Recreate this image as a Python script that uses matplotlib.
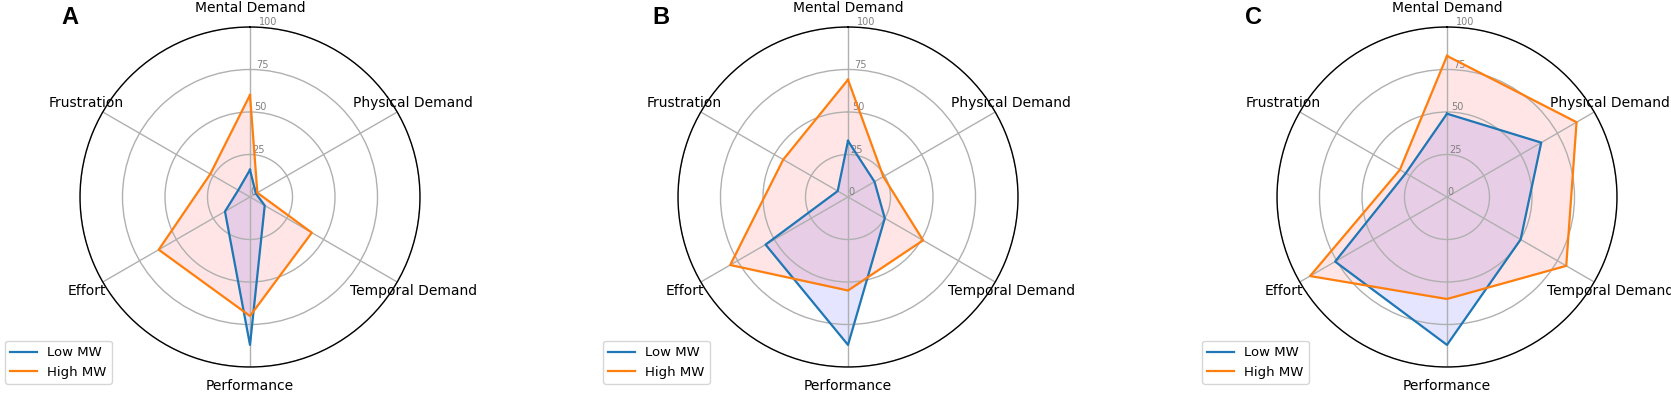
import numpy as np
import matplotlib.pyplot as plt

# NASA-TLX dimensions, clockwise from the top
categories = ['Mental Demand', 'Physical Demand', 'Temporal Demand',
              'Performance', 'Effort', 'Frustration']
panels = ['A', 'B', 'C']
series_names = ['Low MW', 'High MW']

# values (0-100)
low_a = [16, 4, 10, 87, 17, 8]
high_a = [60, 5, 42, 70, 62, 27]
low_b = [33, 18, 25, 87, 56, 7]
high_b = [69, 24, 51, 55, 80, 44]
low_c = [49, 64, 50, 87, 76, 28]
high_c = [83, 88, 81, 60, 93, 32]

r_ticks = [0, 25, 50, 75, 100]

W, H = 1671, 396
fig = plt.figure(figsize=(W / 100, H / 100), dpi=100)

centers = [250, 848, 1447]
radius = 170
legend_x = [5, 603, 1202]
letter_x = [70, 661, 1253]

angles = np.linspace(0, 2 * np.pi, len(categories), endpoint=False)
closed = np.concatenate([angles, angles[:1]])

data = [(low_a, high_a), (low_b, high_b), (low_c, high_c)]

for i, (low, high) in enumerate(data):
    cx = centers[i]
    ax = fig.add_axes([(cx - radius) / W, (H - 197 - radius) / H,
                       2 * radius / W, 2 * radius / H], polar=True)
    ax.set_theta_offset(np.pi / 2)
    ax.set_theta_direction(-1)

    lo = np.concatenate([low, low[:1]])
    hi = np.concatenate([high, high[:1]])
    ax.plot(closed, lo, color='tab:blue', lw=1.6, label=series_names[0])
    ax.fill(closed, lo, color='b', alpha=0.1)
    ax.plot(closed, hi, color='tab:orange', lw=1.6, label=series_names[1])
    ax.fill(closed, hi, color='r', alpha=0.1)

    ax.set_xticks(angles)
    ax.set_xticklabels([])
    # category labels centred just outside the ring, like the original
    for a, name in zip(angles, categories):
        ax.text(a, 111, name, fontsize=10, ha='center', va='center')
    ax.set_ylim(0, 100)
    ax.set_yticks(r_ticks)
    ax.set_yticklabels([str(t) for t in r_ticks], fontsize=7, color='grey')
    ax.set_rlabel_position(3)
    ax.grid(color='#b0b0b0', lw=1)
    ax.spines['polar'].set_color('black')
    ax.spines['polar'].set_linewidth(1)

    ax.legend(loc='lower left', bbox_to_anchor=(legend_x[i] / W, 12 / H),
              bbox_transform=fig.transFigure, borderaxespad=0, fontsize=9.5)

    fig.text(letter_x[i] / W, 1 - 18 / H, panels[i], fontsize=17,
             fontweight='bold', family='Liberation Sans', ha='center', va='center')

fig.savefig('out.png', dpi=100)
